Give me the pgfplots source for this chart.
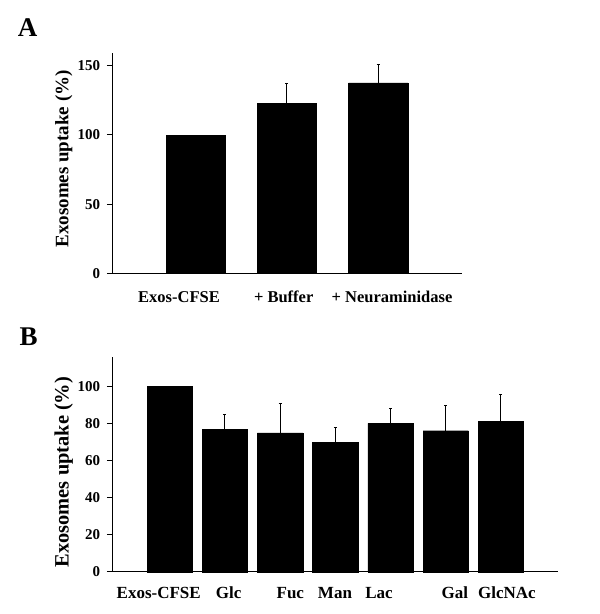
\documentclass[border=0pt]{standalone}
\usepackage{fontspec}
\setmainfont{Liberation Serif}
\usepackage{pgfplots}
\pgfplotsset{compat=1.18}
\begin{document}
\begin{tikzpicture}
\path[use as bounding box] (0,0) rectangle (600bp,614bp);
\pgfplotsset{
  myaxis/.style={
    scale only axis,
    anchor=south west,
    axis lines*=left,
    axis line style={line width=1.1bp, black},
    ymin=0,
    clip=false,
    tick align=outside,
    major tick length=5.5bp,
    ytick style={line width=1bp, black},
    xtick style={draw=none},
    /pgf/number format/assume math mode=true,
    yticklabel style={font=\fontsize{15bp}{15bp}\selectfont\bfseries, inner sep=0pt, xshift=-6.5bp},
    ybar, bar shift=0pt,
  },
  barstyle/.style={fill=black, draw=black},
  errstyle/.style={
    fill=black, draw=black,
    error bars/.cd, y dir=plus, y explicit,
    error bar style={line width=1bp, black},
    error mark options={rotate=90, mark size=1.5bp, line width=1bp, black},
  },
}
% Panel A
\begin{axis}[myaxis,
  at={(112.3bp,340.7bp)},
  width=349.4bp, height=220bp,
  xmin=0.086, xmax=3.915, ymax=159,
  ytick={0,50,100,150},
  bar width=59.3bp,
  xtick={0.817,1.964,3.151},
  xticklabels={Exos-CFSE, + Buffer, + Neuraminidase},
  xticklabel style={font=\fontsize{16.5bp}{16.5bp}\selectfont\bfseries, anchor=base, inner sep=0pt, yshift=-23.7bp},
  ylabel={Exosomes uptake (\%)},
  ylabel style={font=\fontsize{19bp}{19bp}\selectfont\bfseries, at={(axis description cs:-0.139,0.52)}, anchor=center},
]
\addplot[barstyle] coordinates {(1,100)};
\addplot[errstyle] coordinates {(2,122.8) +- (0,14.2) (3,137.7) +- (0,13.3)};
\end{axis}
% Panel B
\begin{axis}[myaxis,
  at={(112.3bp,42.3bp)},
  width=446bp, height=214.4bp,
  xmin=-0.04, xmax=8.04, ymax=115.6,
  ytick={0,20,40,60,80,100},
  bar width=45.3bp,
  xtick={0.801,2.069,3.185,3.994,4.792,6.168,7.110},
  xticklabels={Exos-CFSE, Glc, Fuc, Man, Lac, Gal, GlcNAc},
  xticklabel style={font=\fontsize{17bp}{17bp}\selectfont\bfseries, anchor=base, inner sep=0pt, yshift=-21bp},
  ylabel={Exosomes uptake (\%)},
  ylabel style={font=\fontsize{20.4bp}{20.4bp}\selectfont\bfseries, at={(axis description cs:-0.109,0.465)}, anchor=center},
]
\addplot[barstyle] coordinates {(1,100)};
\addplot[errstyle] coordinates {(2,76.9) +- (0,7.6) (3,74.8) +- (0,16.0) (4,69.9) +- (0,8.1) (5,80.0) +- (0,8.2) (6,76.0) +- (0,13.7) (7,81.1) +- (0,14.5)};
\end{axis}
\node[font=\fontsize{27bp}{27bp}\selectfont\bfseries, inner sep=0pt] at (27.5bp,586.5bp) {A};
\node[font=\fontsize{27bp}{27bp}\selectfont\bfseries, inner sep=0pt] at (28.75bp,277bp) {B};
\end{tikzpicture}
\end{document}
